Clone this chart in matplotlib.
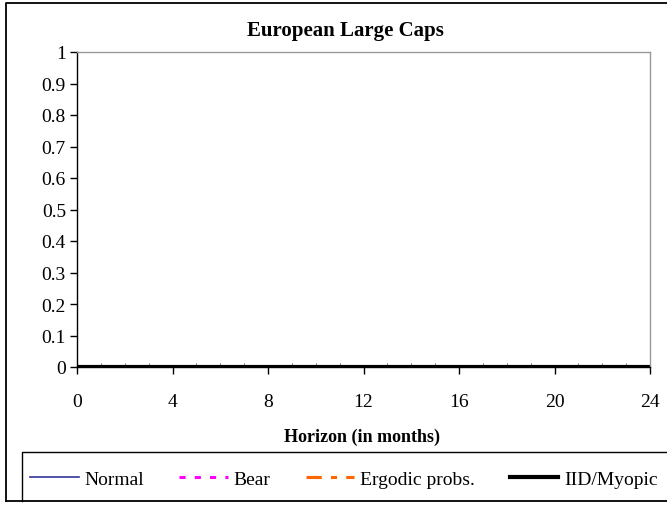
import numpy as np
import matplotlib
matplotlib.use("Agg")
import matplotlib.pyplot as plt
from matplotlib.patches import Rectangle
from matplotlib.lines import Line2D

# data: allocation over horizon, all series flat at zero
horizon = [0.1, 1, 2, 3, 4, 5, 6, 7, 8, 9, 10, 11, 12, 13, 14, 15, 16, 17, 18, 19, 20, 21, 22, 23, 24]
normal = [0.0] * len(horizon)
bear = [0.0] * len(horizon)
ergodic = [0.0] * len(horizon)
iid_myopic = [0.0] * len(horizon)

xticks = [0, 4, 8, 12, 16, 20, 24]
yticks = [0, 0.1, 0.2, 0.3, 0.4, 0.5, 0.6, 0.7, 0.8, 0.9, 1]
ytick_labels = ['0', '0.1', '0.2', '0.3', '0.4', '0.5', '0.6', '0.7', '0.8', '0.9', '1']

plt.rcParams['font.family'] = ['Liberation Serif', 'DejaVu Serif']

W, H = 667, 506
fig = plt.figure(figsize=(W / 100, H / 100), dpi=100)
ax = fig.add_axes([77 / W, 1 - 368 / H, (650 - 77) / W, (368 - 53) / H])

ax.plot(horizon, normal, color='#333399', lw=1.2, label='Normal')
ax.plot(horizon, bear, color='#ff00ff', lw=2.2, linestyle=(0, (2, 3)), label='Bear')
ax.plot(horizon, ergodic, color='#ff6600', lw=2.2, linestyle=(0, (5, 3, 2, 3)), label='Ergodic probs.')
ax.plot(horizon, iid_myopic, color='black', lw=3, label='IID/Myopic')

ax.set_xlim(0, 24)
ax.set_ylim(0, 1)
ax.set_xticks(xticks)
ax.set_xticklabels([str(t) for t in xticks], fontsize=14)
ax.set_yticks(yticks)
ax.set_yticklabels(ytick_labels, fontsize=14)
ax.set_xticks(range(0, 25), minor=True)
ax.tick_params(axis='x', which='minor', direction='in', length=3, color='#555555')
ax.tick_params(axis='both', which='major', direction='out', length=5, width=1, pad=3)
ax.tick_params(axis='x', which='major', pad=14)

for s in ['top', 'right']:
    ax.spines[s].set_color('#999999')
    ax.spines[s].set_linewidth(1)
for s in ['left', 'bottom']:
    ax.spines[s].set_color('black')
    ax.spines[s].set_linewidth(1)

fig.text(345 / W, 1 - 31 / H, 'European Large Caps', ha='center', va='center',
         fontsize=15, fontweight='bold')
fig.text(362 / W, 1 - 437 / H, 'Horizon (in months)', ha='center', va='center',
         fontsize=13, fontweight='bold')

# outer frame (right edge falls outside the image) and legend box
fig.add_artist(Line2D([6 / W, 6 / W, 1.0], [1 - 502 / H, 1 - 4 / H, 1 - 4 / H],
                      transform=fig.transFigure, color='black', lw=1.3))
fig.add_artist(Line2D([6 / W, 1.0], [1 - 502 / H, 1 - 502 / H],
                      transform=fig.transFigure, color='black', lw=1.3))
fig.add_artist(Line2D([22 / W, 22 / W, 1.0], [1 - 502 / H, 1 - 453 / H, 1 - 453 / H],
                      transform=fig.transFigure, color='black', lw=1))

fig.legend(loc='center', bbox_to_anchor=(344 / W, 1 - 480 / H), ncol=4, frameon=False,
           fontsize=14, handlelength=2.5, handletextpad=0.3, columnspacing=1.8)

fig.savefig('out.png', dpi=100, facecolor='white')
